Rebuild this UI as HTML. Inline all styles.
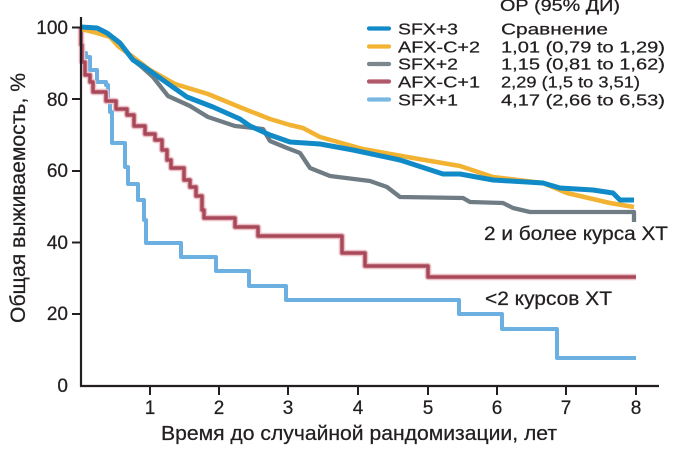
<!DOCTYPE html>
<html>
<head>
<meta charset="utf-8">
<style>
html,body{margin:0;padding:0;background:#fff;}
svg{display:block;}
text{font-family:"Liberation Sans","DejaVu Sans",sans-serif;fill:#231f20;stroke:#231f20;stroke-width:0.25;}
</style>
</head>
<body>
<svg width="681" height="453" viewBox="0 0 681 453" xmlns="http://www.w3.org/2000/svg">
<rect width="681" height="453" fill="#fff"/>

<!-- SFX+1 light blue -->
<path d="M81,27 V53 H86 V57 H90 V70 H97 V82 H106 V85 H108 V100 H110 V112 H112 V143 H125 V167 H128 V184 H138 V200 H144 V220 H146 V243 H181 V257 H216 V271 H249 V286 H286 V300 H459 V314 H502 V329 H557 V358 H636" fill="none" stroke="#6cb0e2" stroke-width="4" stroke-linejoin="round"/>

<!-- AFX-C+1 red -->
<path d="M81,27 V45 H82 V62 H85 V75 H90 V82 H93 V92 H106 V101 H116 V109 H127 V115 H134 V126 H145 V134 H155 V140 H162 V150 H167 V160 H171 V168 H184 V180 H190 V187 H196 V196 H202 V210 H204 V218 H235 V227 H258 V236 H342 V253 H365 V266 H428 V277 H636" fill="none" stroke="#ecc0c6" stroke-width="6.5" stroke-linejoin="round"/>
<path d="M81,27 V45 H82 V62 H85 V75 H90 V82 H93 V92 H106 V101 H116 V109 H127 V115 H134 V126 H145 V134 H155 V140 H162 V150 H167 V160 H171 V168 H184 V180 H190 V187 H196 V196 H202 V210 H204 V218 H235 V227 H258 V236 H342 V253 H365 V266 H428 V277 H636" fill="none" stroke="#a8495a" stroke-width="3.5" stroke-linejoin="round"/>

<!-- SFX+2 gray -->
<polyline points="81,27 97,28 107,33 120,43 133,60 143,68 153,77 168,96 190,106 208,117 235,126 263,129 270,141 287,148 300,153 310,168 330,176 370,181 387,187 400,197 463,198 470,202 503,203 513,208 530,212 634,212 634,222" fill="none" stroke="#6f7c83" stroke-width="4.3" stroke-linejoin="round"/>

<!-- AFX-C+2 yellow -->
<polyline points="81,29 97,33 110,37 118,46 133,57 150,70 175,84 208,94 242,108 270,119 290,125 303,128 320,137 363,149 413,158 460,166 493,177 543,183 567,193 610,203 634,207" fill="none" stroke="#f2b232" stroke-width="4.5" stroke-linejoin="round"/>

<!-- SFX+3 blue -->
<polyline points="81,27 97,28 107,33 120,43 133,60 143,66 160,78 187,97 213,107 240,119 250,126 270,135 290,142 320,144 353,150 400,160 443,174 460,174 493,180 543,183 560,188 593,190 613,193 620,200 634,200" fill="none" stroke="#118ac8" stroke-width="5" stroke-linejoin="round"/>

<!-- axes -->
<line x1="81" y1="17" x2="81" y2="387" stroke="#231f20" stroke-width="2.2"/>
<line x1="80" y1="386" x2="659" y2="386" stroke="#231f20" stroke-width="2.2"/>
<g stroke="#231f20" stroke-width="2">
<line x1="72" y1="27.5" x2="81" y2="27.5"/>
<line x1="72" y1="99" x2="81" y2="99"/>
<line x1="72" y1="171" x2="81" y2="171"/>
<line x1="72" y1="242.5" x2="81" y2="242.5"/>
<line x1="72" y1="314" x2="81" y2="314"/>
<line x1="150" y1="386" x2="150" y2="395"/>
<line x1="219" y1="386" x2="219" y2="395"/>
<line x1="288" y1="386" x2="288" y2="395"/>
<line x1="358" y1="386" x2="358" y2="395"/>
<line x1="428" y1="386" x2="428" y2="395"/>
<line x1="497" y1="386" x2="497" y2="395"/>
<line x1="566" y1="386" x2="566" y2="395"/>
<line x1="636" y1="386" x2="636" y2="395"/>
</g>

<!-- y tick labels -->
<g font-size="19" text-anchor="end">
<text x="68" y="34">100</text>
<text x="68" y="106">80</text>
<text x="68" y="177">60</text>
<text x="68" y="249">40</text>
<text x="68" y="320">20</text>
<text x="68" y="392">0</text>
</g>
<!-- x tick labels -->
<g font-size="19" text-anchor="middle">
<text x="150" y="414">1</text>
<text x="219" y="414">2</text>
<text x="288" y="414">3</text>
<text x="358" y="414">4</text>
<text x="428" y="414">5</text>
<text x="497" y="414">6</text>
<text x="566" y="414">7</text>
<text x="636" y="414">8</text>
</g>

<!-- axis titles -->
<text x="161" y="440" font-size="20" textLength="396" lengthAdjust="spacingAndGlyphs">Время до случайной рандомизации, лет</text>
<text transform="translate(25,323) rotate(-90)" font-size="21" textLength="250" lengthAdjust="spacingAndGlyphs">Общая выживаемость, %</text>

<!-- annotations -->
<text x="484" y="240" font-size="19" textLength="184" lengthAdjust="spacingAndGlyphs">2 и более курса ХТ</text>
<text x="485" y="305" font-size="19" textLength="127" lengthAdjust="spacingAndGlyphs">&lt;2 курсов ХТ</text>

<!-- legend -->
<text x="500" y="11" font-size="16.5" textLength="120" lengthAdjust="spacingAndGlyphs">ОР (95% ДИ)</text>
<g stroke-width="4.2" stroke-linecap="round">
<line x1="369" y1="28.5" x2="389" y2="28.5" stroke="#118ac8"/>
<line x1="369" y1="46.5" x2="389" y2="46.5" stroke="#f2b232"/>
<line x1="369" y1="64" x2="389" y2="64" stroke="#7a878d"/>
<line x1="369" y1="81.5" x2="389" y2="81.5" stroke="#b0596a"/>
<line x1="369" y1="99.5" x2="389" y2="99.5" stroke="#7ab8e4"/>
</g>
<g font-size="16">
<text x="398" y="34.5" textLength="60" lengthAdjust="spacingAndGlyphs">SFX+3</text>
<text x="398" y="52.5" textLength="82" lengthAdjust="spacingAndGlyphs">AFX-C+2</text>
<text x="398" y="69.5" textLength="60" lengthAdjust="spacingAndGlyphs">SFX+2</text>
<text x="398" y="87.5" textLength="82" lengthAdjust="spacingAndGlyphs">AFX-C+1</text>
<text x="398" y="105.5" textLength="60" lengthAdjust="spacingAndGlyphs">SFX+1</text>
<text x="501" y="34.5" textLength="107" lengthAdjust="spacingAndGlyphs">Сравнение</text>
<text x="501" y="52.5" textLength="164" lengthAdjust="spacingAndGlyphs">1,01 (0,79 to 1,29)</text>
<text x="501" y="69.5" textLength="164" lengthAdjust="spacingAndGlyphs">1,15 (0,81 to 1,62)</text>
<text x="501" y="87.5" textLength="139" lengthAdjust="spacingAndGlyphs">2,29 (1,5 to 3,51)</text>
<text x="501" y="105.5" textLength="164" lengthAdjust="spacingAndGlyphs">4,17 (2,66 to 6,53)</text>
</g>
</svg>
</body>
</html>
